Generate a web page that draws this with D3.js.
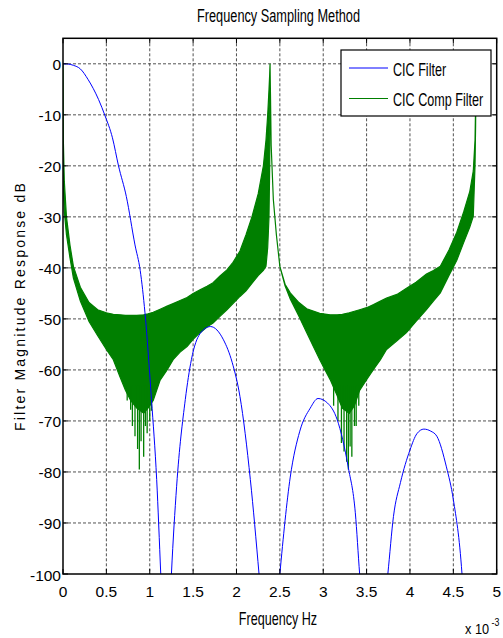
<!DOCTYPE html>
<html><head><meta charset="utf-8">
<script src="https://cdn.jsdelivr.net/npm/d3@7"></script>
<style>html,body{margin:0;padding:0;background:#fff}svg{display:block}text{font-family:"Liberation Sans",Arial,sans-serif;fill:#000}</style>
</head><body>
<script>
// ---------- data (frequency in units of 1e-3 Hz, magnitude in dB) ----------
const titleText = "Frequency Sampling Method";
const xLabelText = "Frequency Hz";
const yLabelText = "Filter Magnitude Response dB";
const seriesNames = ["CIC Filter", "CIC Comp Filter"];
const xTicks = [0, 0.5, 1, 1.5, 2, 2.5, 3, 3.5, 4, 4.5, 5];
const yTicks = [0, -10, -20, -30, -40, -50, -60, -70, -80, -90, -100];

// CIC filter (blue)
const cicF  = [0,0.06,0.12,0.2,0.29,0.41,0.485,0.57,0.64,0.73,0.83,0.89,0.945,1.02,1.08,1.127,1.19,1.25,1.31,1.41,1.48,1.58,1.70,1.85,1.95,2.04,2.16,2.26,2.38,2.50,2.62,2.73,2.85,2.94,3.05,3.16,3.29,3.37,3.42,3.58,3.745,3.81,3.89,4.0,4.08,4.16,4.24,4.31,4.42,4.5,4.6,4.68,4.762];
const cicDB = [0,-0.05,-0.3,-1.0,-3.1,-7,-10.2,-14.5,-20,-26,-35.5,-40.5,-48.8,-65.8,-81.5,-100,-125,-100,-82.8,-65.8,-58,-52.9,-51.5,-54.1,-58.5,-65.2,-81.5,-100,-125,-100,-81,-72,-67.5,-65.6,-66.5,-69.7,-79.2,-88,-100,-125,-100,-88.7,-82.1,-75.7,-72.5,-71.6,-72,-73,-79,-85.4,-100,-125,-140];

// CIC compensation filter (green): envelope of the dense ripple
const compF     = [0,0.004,0.015,0.04,0.08,0.12,0.2,0.3,0.4,0.5,0.58,0.66,0.72,0.78,0.85,0.93,0.98,1.04,1.12,1.2,1.27,1.35,1.43,1.5,1.58,1.66,1.73,1.81,1.89,1.96,2.04,2.11,2.18,2.25,2.31,2.34,2.36,2.375,2.383,2.387,2.392,2.40,2.425,2.46,2.50,2.56,2.62,2.72,2.81,2.96,3.08,3.16,3.22,3.30,3.36,3.42,3.50,3.58,3.66,3.73,3.85,3.96,4.07,4.19,4.27,4.35,4.45,4.54,4.62,4.69,4.73,4.75,4.757,4.762];
const compUpper = [0,-15,-23,-30,-35.5,-39.7,-43.8,-46.8,-48.2,-48.8,-49.1,-49.2,-49.3,-49.3,-49.3,-49.2,-49.0,-48.7,-48.1,-47.5,-47.0,-46.4,-45.8,-45.0,-44.3,-43.6,-42.9,-41.6,-40.4,-38.9,-36.7,-33.5,-29.9,-25.5,-20,-15,-10,-5,-2,0,-6,-16,-26.6,-33.5,-39.7,-43.2,-44.9,-46.8,-48.0,-48.9,-49.2,-49.2,-49.1,-48.8,-48.5,-48.2,-47.8,-47.2,-46.5,-45.9,-45.2,-44.0,-42.8,-41.2,-40.5,-39.7,-36.5,-33,-29,-25,-21,-15,-8,0];
const compLower = [0,-24,-29,-33.5,-38,-42,-46.5,-50.5,-53.3,-56,-58,-61.5,-64,-66,-67.5,-68.5,-67.5,-66,-62,-60,-58,-56.5,-55.4,-54,-52.7,-51.6,-50.8,-49.5,-48.2,-47,-45.6,-44.5,-43,-41.5,-40.5,-39.7,-36,-30,-20,0,-6,-16,-26.6,-33.5,-39.7,-43.5,-46.1,-49.5,-52.7,-58,-61.9,-65,-67.5,-68.5,-67,-64,-61.9,-59.9,-58,-56,-54.3,-52.7,-50.5,-48.2,-46.5,-44.9,-41.5,-38.5,-35,-32,-29.9,-20,-12,0];
// deep ripple notches of the green trace
const notchF  = [0.74,0.78,0.80,0.83,0.86,0.88,0.90,0.93,0.95,0.97,1.0,1.02,3.12,3.17,3.21,3.24,3.27,3.29,3.31,3.33,3.36,3.38,3.41];
const notchDB = [-66,-67.8,-71,-73,-75.5,-79.5,-74,-77,-71,-72.4,-70,-68,-67,-70,-74.3,-76,-78,-79.5,-75,-77,-71,-71,-67];

// ---------- layout ----------
const W = 503, H = 638;
const L = 63, R = 496.7, T = 38.3, B = 574;
const svg = d3.select("body").append("svg").attr("width", W).attr("height", H);
svg.append("rect").attr("width", W).attr("height", H).attr("fill", "#fff");

const x = d3.scaleLinear().domain([0, 5]).range([L, R]);
const y = d3.scaleLinear().domain([-100, 5]).range([B, T]);

svg.append("clipPath").attr("id", "clip").append("rect")
  .attr("x", L).attr("y", T).attr("width", R - L).attr("height", B - T);

// grid
const grid = svg.append("g").attr("stroke", "#000").attr("stroke-width", 0.8).attr("stroke-dasharray", "3,2").attr("opacity", 0.85);
xTicks.filter(v => v > 0 && v < 5).forEach(v => grid.append("line").attr("x1", x(v)).attr("x2", x(v)).attr("y1", T).attr("y2", B));
yTicks.filter(v => v > -100).forEach(v => grid.append("line").attr("x1", L).attr("x2", R).attr("y1", y(v)).attr("y2", y(v)));

const plot = svg.append("g").attr("clip-path", "url(#clip)");

// green band
const compData = compF.map((f, i) => ({f, u: compUpper[i], l: compLower[i]}));
plot.append("path").datum(compData)
  .attr("d", d3.area().x(d => x(d.f)).y0(d => y(d.l)).y1(d => y(d.u)))
  .attr("fill", "#007f00").attr("stroke", "#007f00").attr("stroke-width", 1.2);
plot.append("g").selectAll("line").data(notchF.map((f, i) => ({f, v: notchDB[i]}))).join("line")
  .attr("x1", d => x(d.f)).attr("x2", d => x(d.f))
  .attr("y1", y(-63)).attr("y2", d => y(d.v))
  .attr("stroke", "#007f00").attr("stroke-width", 1.3);

// blue line
plot.append("path").datum(cicF.map((f, i) => ({f, v: cicDB[i]})))
  .attr("d", d3.line().x(d => x(d.f)).y(d => y(d.v)).curve(d3.curveMonotoneX))
  .attr("fill", "none").attr("stroke", "#0000ff").attr("stroke-width", 1);

// axes box + ticks
svg.append("rect").attr("x", L).attr("y", T).attr("width", R - L).attr("height", B - T)
  .attr("fill", "none").attr("stroke", "#000").attr("stroke-width", 1.5);
const tk = svg.append("g").attr("stroke", "#000").attr("stroke-width", 1);
xTicks.forEach(v => {
  tk.append("line").attr("x1", x(v)).attr("x2", x(v)).attr("y1", B).attr("y2", B - 5);
  tk.append("line").attr("x1", x(v)).attr("x2", x(v)).attr("y1", T).attr("y2", T + 5);
});
yTicks.forEach(v => {
  tk.append("line").attr("x1", L).attr("x2", L + 5).attr("y1", y(v)).attr("y2", y(v));
  tk.append("line").attr("x1", R).attr("x2", R - 5).attr("y1", y(v)).attr("y2", y(v));
});

// tick labels
svg.append("g").selectAll("text").data(xTicks).join("text")
  .attr("x", d => x(d)).attr("y", 597).attr("text-anchor", "middle")
  .attr("font-size", 15.5).text(d => d3.format("~g")(d));
svg.append("g").selectAll("text").data(yTicks).join("text")
  .attr("x", 61).attr("y", d => y(d) + 6.5).attr("text-anchor", "end")
  .attr("font-size", 15.5).text(d => d);

// title, labels
function cond(g, tx, ty, txt, size, sx, anchor) {
  return g.append("text").attr("transform", `translate(${tx},${ty}) scale(${sx},1)`)
    .attr("text-anchor", anchor).attr("font-size", size).text(txt);
}
cond(svg, 278.5, 21.7, titleText, 18.5, 0.69, "middle");
cond(svg, 278, 625, xLabelText, 18, 0.7, "middle");
cond(svg, 465, 634, "x 10", 15, 0.85, "start");
cond(svg, 491.5, 626, "-3", 11, 0.8, "start");

svg.append("text").attr("transform", `translate(25,306) rotate(-90)`)
  .attr("text-anchor", "middle").attr("font-size", 14).attr("letter-spacing", 2.2)
  .text(yLabelText);

// legend
const lg = svg.append("g");
lg.append("rect").attr("x", 341).attr("y", 50).attr("width", 150).attr("height", 66)
  .attr("fill", "#fff").attr("stroke", "#000").attr("stroke-width", 1.2);
const legColors = ["#0000ff", "#007f00"];
seriesNames.forEach((n, i) => {
  const ly = 68 + i * 30.5;
  lg.append("line").attr("x1", 349).attr("x2", 388).attr("y1", ly).attr("y2", ly)
    .attr("stroke", legColors[i]).attr("stroke-width", 1);
  cond(lg, 393, ly + 7.5, n, 18, 0.7, "start");
});
</script>
</body></html>
